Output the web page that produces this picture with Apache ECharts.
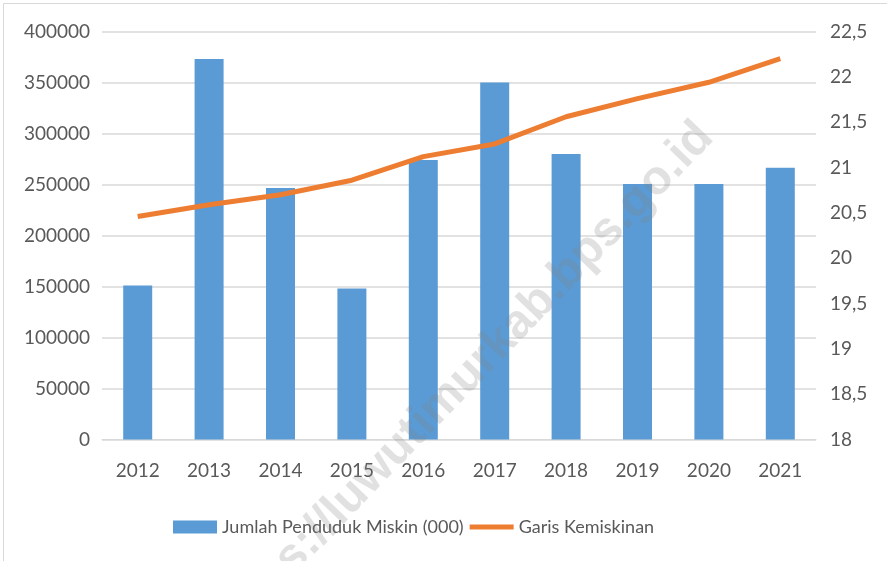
<!DOCTYPE html>
<html><head><meta charset="utf-8">
<script src="https://cdn.jsdelivr.net/npm/echarts@6/dist/echarts.min.js"></script>
<style>html,body{margin:0;padding:0;background:#fff}#c{width:887px;height:561px}</style>
</head><body><div id="c"></div>
<script>
const years = ['2012','2013','2014','2015','2016','2017','2018','2019','2020','2021'];
const pendudukMiskin = [151000, 373000, 246500, 148000, 274000, 350000, 280000, 250500, 250500, 266500];
const garisKemiskinan = [20.46, 20.59, 20.70, 20.86, 21.12, 21.26, 21.56, 21.76, 21.94, 22.20];
const barName = 'Jumlah Penduduk Miskin (000)';
const lineName = 'Garis Kemiskinan';
const watermark = 'https://luwutimurkab.bps.go.id';

const FONT = 'Lato';
const GREY = '#595959';
const chart = echarts.init(document.getElementById('c'), null, {renderer:'canvas'});
chart.setOption({
  animation: false,
  textStyle: {fontFamily: FONT},
  grid: {left: 102, right: 71, top: 31.5, bottom: 121.5, containLabel: false},
  legend: {
    data: [
      {name: barName, icon: 'rect'},
      {name: lineName, icon: 'path://M0,0 L0,0 M0,13 L0,13 M0,4 L44,4 L44,9 L0,9 Z'}
    ],
    left: 168, top: 513,
    itemWidth: 44, itemHeight: 13, itemGap: 6,
    textStyle: {fontFamily: FONT, fontSize: 18, color: GREY}
  },
  xAxis: {
    type: 'category', data: years,
    axisLine: {show: true, lineStyle: {color: '#d9d9d9', width: 1}},
    axisTick: {show: false},
    axisLabel: {fontFamily: FONT, fontSize: 19, color: GREY, margin: 22}
  },
  yAxis: [{
    type: 'value', min: 0, max: 400000, interval: 50000,
    axisLine: {show: false}, axisTick: {show: false},
    splitLine: {lineStyle: {color: '#d9d9d9', width: 1.5}},
    axisLabel: {fontFamily: FONT, fontSize: 19, color: GREY, margin: 12,
      formatter: v => String(v)}
  }, {
    type: 'value', min: 18, max: 22.5, interval: 0.5,
    axisLine: {show: false}, axisTick: {show: false}, splitLine: {show: false},
    axisLabel: {fontFamily: FONT, fontSize: 19, color: GREY, margin: 14,
      formatter: v => String(v).replace('.', ',')}
  }],
  series: [{
    name: barName, type: 'bar', data: pendudukMiskin, barWidth: 29,
    itemStyle: {color: '#5b9bd5'}, z: 2
  }, {
    name: lineName, type: 'line', yAxisIndex: 1, data: garisKemiskinan,
    symbol: 'none', showSymbol: false,
    lineStyle: {color: '#ed7d31', width: 5}, itemStyle: {color: '#ed7d31'}, z: 3
  }],
  graphic: [{
    type: 'rect', shape: {x: 3.5, y: 3.5, width: 900, height: 600},
    style: {fill: 'none', stroke: '#d9d9d9', lineWidth: 1}, silent: true
  }, {
    type: 'text', x: 463, y: 381, rotation: 46 * Math.PI / 180,
    style: {text: watermark, font: 'bold 48px "Liberation Sans"', fill: 'rgba(128,128,128,0.24)',
      textAlign: 'center', textVerticalAlign: 'middle'}, z: 10, silent: true
  }]
});
</script></body></html>
